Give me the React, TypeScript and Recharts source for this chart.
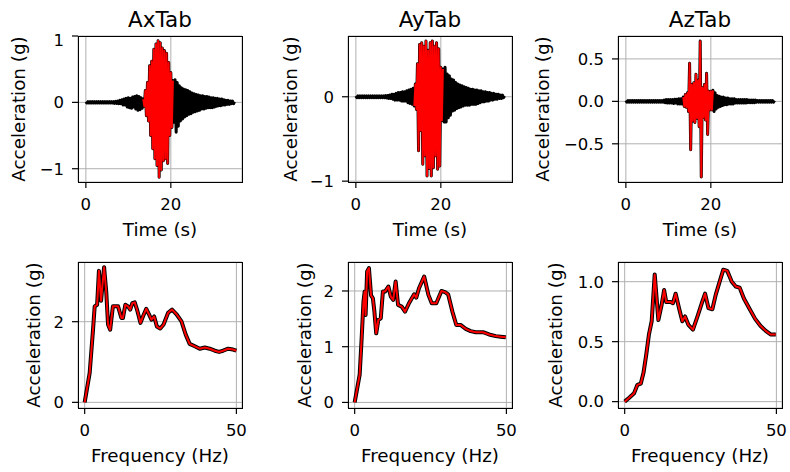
import { CartesianGrid, Line, LineChart, XAxis, YAxis } from 'recharts'

const FONT = '"DejaVu Sans", sans-serif'

// sample step of the acceleration records (s)
const DT = 0.25

const axAcc = [
  0.01, -0.01, 0.01, -0.01, 0.01, -0.01, 0.01, -0.01,
  0.01, -0.01, 0.01, -0.01, 0.01, -0.01, 0.01, -0.01,
  0.01, -0.01, 0.01, -0.01, 0.01, -0.01, 0.01, -0.01,
  0.01, -0.01, 0.01, -0.015, 0.015, -0.015, 0.02, -0.02,
  0.03, -0.02, 0.04, -0.04, 0.05, -0.04, 0.06, -0.07,
  0.07, -0.08, 0.06, -0.09, 0.08, -0.07, 0.09, -0.1,
  0.1, -0.12, 0.09, -0.11, 0.07, -0.09, 0.05, -0.06,
  0.18, -0.2, 0.3, -0.28, 0.55, -0.5, 0.62, -0.7,
  0.8, -0.85, 0.88, -0.95, 0.93, -1.13, 0.9, -1.02,
  0.82, -0.88, 0.78, -0.85, 0.74, -0.92, 0.6, -0.5,
  0.45, -0.38, 0.33, -0.3, 0.34, -0.45, 0.3, -0.36,
  0.25, -0.28, 0.22, -0.25, 0.2, -0.22, 0.19, -0.2,
  0.18, -0.18, 0.16, -0.17, 0.14, -0.15, 0.13, -0.14,
  0.12, -0.13, 0.11, -0.12, 0.1, -0.1, 0.1, -0.1,
  0.09, -0.09, 0.09, -0.08, 0.08, -0.08, 0.07, -0.08,
  0.07, -0.07, 0.06, -0.06, 0.06, -0.05, 0.05, -0.05,
  0.05, -0.04, 0.04, -0.04, 0.03, -0.03, 0.03, -0.03,
  0.02, -0.02, 0.02, -0.02, 0.01,
]

const ayAcc = [
  0.01, -0.01, 0.01, -0.01, 0.01, -0.01, 0.01, -0.01,
  0.01, -0.01, 0.01, -0.01, 0.01, -0.01, 0.01, -0.01,
  0.01, -0.01, 0.01, -0.01, 0.01, -0.01, 0.01, -0.01,
  0.01, -0.01, 0.01, -0.01, 0.015, -0.015, 0.015, -0.02,
  0.02, -0.02, 0.03, -0.03, 0.03, -0.04, 0.04, -0.04,
  0.05, -0.04, 0.05, -0.05, 0.06, -0.05, 0.06, -0.05,
  0.07, -0.07, 0.08, -0.08, 0.09, -0.09, 0.1, -0.11,
  0.15, -0.15, 0.39, -0.64, 0.62, -0.4, 0.64, -0.8,
  0.6, -0.7, 0.66, -0.94, 0.55, -0.85, 0.64, -0.94,
  0.66, -0.84, 0.6, -0.7, 0.64, -0.86, 0.57, -0.82,
  0.35, -0.28, 0.33, -0.3, 0.35, -0.3, 0.27, -0.25,
  0.25, -0.22, 0.21, -0.17, 0.2, -0.16, 0.17, -0.14,
  0.15, -0.13, 0.14, -0.12, 0.13, -0.11, 0.12, -0.1,
  0.11, -0.1, 0.1, -0.1, 0.09, -0.09, 0.09, -0.09,
  0.08, -0.09, 0.08, -0.08, 0.07, -0.07, 0.07, -0.06,
  0.06, -0.06, 0.06, -0.05, 0.05, -0.05, 0.05, -0.04,
  0.04, -0.04, 0.04, -0.03, 0.03, -0.03, 0.03, -0.02,
  0.02, -0.02, 0.02, -0.01, 0.01,
]

const azAcc = [
  0.01, -0.01, 0.01, -0.01, 0.01, -0.01, 0.01, -0.01,
  0.01, -0.01, 0.01, -0.01, 0.01, -0.01, 0.01, -0.01,
  0.01, -0.01, 0.01, -0.01, 0.01, -0.01, 0.01, -0.01,
  0.01, -0.01, 0.01, -0.01, 0.01, -0.01, 0.01, -0.01,
  0.01, -0.01, 0.01, -0.01, 0.015, -0.015, 0.02, -0.02,
  0.02, -0.02, 0.02, -0.02, 0.02, -0.025, 0.025, -0.02,
  0.025, -0.03, 0.03, -0.03, 0.03, -0.03, 0.05, -0.06,
  0.08, -0.07, 0.1, -0.12, 0.45, -0.57, 0.2, -0.23,
  0.22, -0.25, 0.32, -0.2, 0.25, -0.3, 0.71, -0.89,
  0.16, -0.19, 0.2, -0.22, 0.33, -0.39, 0.12, -0.1,
  0.12, -0.1, 0.13, -0.12, 0.1, -0.09, 0.07, -0.07,
  0.06, -0.06, 0.05, -0.05, 0.05, -0.04, 0.04, -0.04,
  0.04, -0.03, 0.03, -0.03, 0.03, -0.03, 0.03, -0.02,
  0.02, -0.02, 0.02, -0.02, 0.02, -0.02, 0.02, -0.02,
  0.02, -0.02, 0.02, -0.015, 0.015, -0.015, 0.015, -0.015,
  0.015, -0.015, 0.015, -0.01, 0.01, -0.01, 0.01, -0.01,
  0.01, -0.01, 0.01, -0.01, 0.01, -0.01, 0.01, -0.01,
  0.01, -0.01, 0.01, -0.01, 0.01,
]

// strong-motion window (sample indices) drawn in red
const axWindow = [54, 82]
const ayWindow = [55, 82]
const azWindow = [54, 82]

const axFreq = [0, 1.65, 2.75, 3.3, 4.1, 4.7, 5.4, 6.4, 7.1, 7.7, 8.4, 9.3, 11, 12.1, 12.6, 13.4, 14.3, 15, 15.7, 16.5, 17.4, 18.4, 19.2, 20.3, 21.2, 22, 22.9, 23.8, 24.9, 26, 27.5, 28.8, 30.2, 31.9, 33.3, 34.6, 36.3, 37.9, 39.6, 41.2, 42.9, 44.3, 45.6, 47.3, 48.9, 50]
const axSpec = [0, 0.73, 1.8, 2.38, 2.42, 3.26, 2.52, 3.35, 2.75, 1.93, 1.8, 2.38, 2.38, 2.09, 2.09, 2.42, 2.38, 2.3, 2.46, 2.48, 2.26, 1.97, 2.13, 2.32, 2.18, 2.05, 2.13, 1.88, 1.83, 1.93, 2.22, 2.3, 2.19, 2.01, 1.68, 1.45, 1.39, 1.33, 1.36, 1.33, 1.28, 1.25, 1.28, 1.33, 1.31, 1.28]

const ayFreq = [0, 1.65, 2.3, 2.9, 3.3, 3.6, 4.1, 4.7, 5.4, 6.0, 6.5, 7.1, 7.8, 8.6, 9.3, 10, 11.1, 11.9, 12.7, 13.5, 14.3, 15.5, 16.6, 17.9, 19.6, 20.3, 21.2, 22.9, 24.3, 25.4, 26.9, 28.6, 29.8, 30.8, 32.2, 33.5, 34.9, 36.6, 38.2, 39.9, 42.3, 44.3, 46.5, 48.1, 49.8]
const aySpec = [0, 0.5, 1.15, 1.81, 1.99, 1.57, 2.35, 2.41, 1.92, 1.87, 1.63, 1.24, 1.48, 1.51, 1.99, 1.99, 2.08, 1.9, 1.84, 2.17, 1.75, 1.72, 1.63, 1.78, 1.94, 1.88, 2.05, 2.26, 1.93, 1.78, 1.78, 2.0, 1.98, 1.94, 1.63, 1.39, 1.39, 1.32, 1.28, 1.26, 1.26, 1.22, 1.19, 1.18, 1.17]

const azFreq = [0, 1.4, 3.1, 4.2, 5.3, 6.2, 7.1, 8.0, 8.9, 9.9, 11.1, 12.2, 13.0, 13.7, 15.2, 15.9, 16.8, 17.9, 19.0, 19.9, 21.0, 22.5, 24.0, 25.4, 26.5, 27.6, 28.9, 30.0, 31.3, 32.5, 33.8, 35.3, 36.6, 37.9, 39.3, 41.0, 43.0, 44.8, 46.5, 48.1, 49.8]
const azSpec = [0, 0.03, 0.07, 0.14, 0.15, 0.24, 0.39, 0.56, 0.67, 1.06, 0.68, 0.81, 0.93, 0.83, 0.83, 0.82, 0.9, 0.78, 0.67, 0.71, 0.64, 0.6, 0.71, 0.82, 0.9, 0.78, 0.77, 0.89, 1.0, 1.1, 1.09, 1.0, 0.96, 0.95, 0.86, 0.78, 0.69, 0.63, 0.59, 0.56, 0.56]

const timeTicks = [0, 20]
const freqTicks = [0, 50]

// axes box geometry
const W = 164
const H = 146
const ML = 70
const MR = 6
const MT = 6
const MB = 40
const COLS = [78, 348, 618]
const ROWS = [36, 262]

const minus = (s: string) => s.replace('-', '\u2212')
const fmtInt = (v: number) => minus(String(v))
const fmt1 = (v: number) => minus(v.toFixed(1))

function timeRows(values: number[], win: number[]) {
  return values.map((v, i) => ({
    t: i * DT,
    acc: v,
    strong: i >= win[0] && i <= win[1] ? v : null,
  }))
}

function specRows(freq: number[], spec: number[]) {
  return freq.map((f, i) => ({ f, sa: spec[i] }))
}

interface LineSpec {
  key: string
  color: string
  width: number
}

interface PanelProps {
  left: number
  top: number
  data: object[]
  xKey: string
  xDomain: number[]
  xTicks: number[]
  yDomain: number[]
  yTicks: number[]
  yFmt: (v: number) => string
  lines: LineSpec[]
  title?: string
  xLabel: string
  yLabelGap: number
}

const tickStyle = { fill: '#000', fontSize: 16.5, fontFamily: FONT }

function textStyle(size: number): React.CSSProperties {
  return {
    position: 'absolute',
    transform: 'translate(-50%, -50%)',
    fontFamily: FONT,
    fontSize: size,
    lineHeight: 1,
    whiteSpace: 'nowrap',
    color: '#000',
  }
}

function Panel(p: PanelProps) {
  return (
    <>
      <div style={{ position: 'absolute', left: p.left - ML, top: p.top - MT }}>
        <LineChart
          width={ML + W + MR}
          height={MT + H + MB}
          data={p.data}
          margin={{ top: MT, right: MR, left: 0, bottom: 0 }}
        >
          <CartesianGrid stroke="#b0b0b0" strokeWidth={1} />
          <XAxis
            dataKey={p.xKey}
            type="number"
            domain={p.xDomain}
            ticks={p.xTicks}
            allowDataOverflow
            height={MB}
            axisLine={false}
            tickSize={6}
            tickMargin={10.5}
            tickLine={{ stroke: '#000', strokeWidth: 1.2 }}
            tick={tickStyle}
          />
          <YAxis
            type="number"
            domain={p.yDomain}
            ticks={p.yTicks}
            allowDataOverflow
            width={ML}
            axisLine={false}
            tickSize={6}
            tickMargin={8}
            tickFormatter={p.yFmt}
            tickLine={{ stroke: '#000', strokeWidth: 1.2 }}
            tick={tickStyle}
          />
          {p.lines.map((l, i) => (
            <Line
              key={i}
              type="linear"
              dataKey={l.key}
              stroke={l.color}
              strokeWidth={l.width}
              strokeLinejoin="round"
              dot={false}
              activeDot={false}
              isAnimationActive={false}
            />
          ))}
        </LineChart>
      </div>
      <div
        style={{
          position: 'absolute',
          left: p.left,
          top: p.top,
          width: W + 1,
          height: H + 1,
          border: '1px solid #000',
          boxSizing: 'border-box',
        }}
      />
      {p.title && (
        <div style={{ ...textStyle(21.5), left: p.left + W / 2, top: 20 }}>{p.title}</div>
      )}
      <div style={{ ...textStyle(18.3), left: p.left + W / 2, top: p.top + H + 47.5 }}>
        {p.xLabel}
      </div>
      <div
        style={{
          ...textStyle(18.3),
          left: p.left - p.yLabelGap,
          top: p.top + H / 2,
          transform: 'translate(-50%, -50%) rotate(-90deg)',
        }}
      >
        Acceleration (g)
      </div>
    </>
  )
}

const timeLines: LineSpec[] = [
  { key: 'acc', color: '#000', width: 3 },
  { key: 'strong', color: '#ff0000', width: 1.9 },
]
const specLines: LineSpec[] = [
  { key: 'sa', color: '#000', width: 4 },
  { key: 'sa', color: '#ff0000', width: 2 },
]

export default function App() {
  const tDomain = [-1.85, 36.75]
  const fDomain = [-2.2, 51.85]
  return (
    <div
      style={{
        position: 'absolute',
        left: 0,
        top: 0,
        width: 790,
        height: 472,
        background: '#fff',
        overflow: 'hidden',
      }}
    >
      <Panel
        left={COLS[0]} top={ROWS[0]} data={timeRows(axAcc, axWindow)} xKey="t"
        xDomain={tDomain} xTicks={timeTicks} yDomain={[-1.2, 1.0]} yTicks={[-1, 0, 1]}
        yFmt={fmtInt} lines={timeLines} title="AxTab" xLabel="Time (s)" yLabelGap={59}
      />
      <Panel
        left={COLS[1]} top={ROWS[0]} data={timeRows(ayAcc, ayWindow)} xKey="t"
        xDomain={tDomain} xTicks={timeTicks} yDomain={[-1.01, 0.72]} yTicks={[-1, 0]}
        yFmt={fmtInt} lines={timeLines} title="AyTab" xLabel="Time (s)" yLabelGap={57}
      />
      <Panel
        left={COLS[2]} top={ROWS[0]} data={timeRows(azAcc, azWindow)} xKey="t"
        xDomain={tDomain} xTicks={timeTicks} yDomain={[-0.95, 0.77]} yTicks={[-0.5, 0, 0.5]}
        yFmt={fmt1} lines={timeLines} title="AzTab" xLabel="Time (s)" yLabelGap={75}
      />
      <Panel
        left={COLS[0]} top={ROWS[1]} data={specRows(axFreq, axSpec)} xKey="f"
        xDomain={fDomain} xTicks={freqTicks} yDomain={[-0.14, 3.48]} yTicks={[0, 2]}
        yFmt={fmtInt} lines={specLines} xLabel="Frequency (Hz)" yLabelGap={44}
      />
      <Panel
        left={COLS[1]} top={ROWS[1]} data={specRows(ayFreq, aySpec)} xKey="f"
        xDomain={fDomain} xTicks={freqTicks} yDomain={[-0.1, 2.52]} yTicks={[0, 1, 2]}
        yFmt={fmtInt} lines={specLines} xLabel="Frequency (Hz)" yLabelGap={43}
      />
      <Panel
        left={COLS[2]} top={ROWS[1]} data={specRows(azFreq, azSpec)} xKey="f"
        xDomain={fDomain} xTicks={freqTicks} yDomain={[-0.053, 1.164]} yTicks={[0, 0.5, 1]}
        yFmt={fmt1} lines={specLines} xLabel="Frequency (Hz)" yLabelGap={62}
      />
    </div>
  )
}
